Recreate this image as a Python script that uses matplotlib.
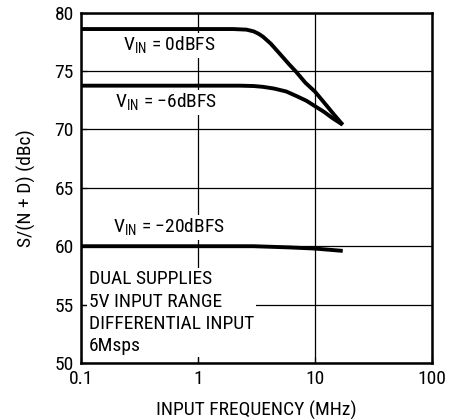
import matplotlib
matplotlib.use("Agg")
import matplotlib.pyplot as plt
from matplotlib import font_manager
from matplotlib.ticker import FixedLocator, FixedFormatter, NullLocator

# pick a narrow font if one is around
names = set(f.name for f in font_manager.fontManager.ttflist)
family = "DejaVu Sans"
for cand in ["Liberation Sans Narrow", "Roboto Condensed", "Open Sans Condensed", "Liberation Sans"]:
    if cand in names:
        family = cand
        break
plt.rcParams["font.family"] = [family, "DejaVu Sans"]

# data
freq_0db = [0.1, 1.0, 2.0, 2.6, 3.0, 3.3, 3.6, 4.2, 5.0, 6.0, 6.9, 8.3, 10.0, 12.0, 14.5, 17.3]
snd_0db = [78.6, 78.6, 78.6, 78.55, 78.4, 78.2, 77.95, 77.35, 76.5, 75.6, 74.95, 74.0, 73.25, 72.3, 71.3, 70.4]

freq_6db = [0.1, 1.0, 2.3, 3.0, 3.6, 4.5, 5.7, 7.0, 8.5, 10.0, 12.0, 14.0, 17.3]
snd_6db = [73.75, 73.75, 73.75, 73.72, 73.65, 73.5, 73.25, 72.85, 72.45, 72.0, 71.5, 71.0, 70.4]

freq_20db = [0.1, 1.0, 3.0, 6.0, 10.0, 17.3]
snd_20db = [60.0, 60.0, 60.0, 59.9, 59.8, 59.6]

x_ticks = [0.1, 1, 10, 100]
x_tick_labels = ["0.1", "1", "10", "100"]
y_ticks = [50, 55, 60, 65, 70, 75, 80]

fs = 14

fig = plt.figure(figsize=(4.61, 4.19), dpi=100)
ax = fig.add_axes([0.175, 0.1337, 0.762, 0.836])

ax.set_xscale("log")
ax.set_xlim(0.1, 100)
ax.set_ylim(50, 80)

ax.grid(True, color="black", linewidth=0.9, zorder=1)
for s in ax.spines.values():
    s.set_linewidth(1.8)

for fx, fy in [(freq_0db, snd_0db), (freq_6db, snd_6db), (freq_20db, snd_20db)]:
    ax.plot(fx, fy, color="black", linewidth=2.8, solid_capstyle="butt", solid_joinstyle="round", zorder=3)

box = dict(facecolor="white", edgecolor="none", pad=1.5)
ax.text(0.23, 77.2, "V$_{\\mathregular{IN}}$ = 0dBFS", fontsize=fs, va="center", ha="left", bbox=box, zorder=4)
ax.text(0.196, 72.3, "V$_{\\mathregular{IN}}$ = \u22126dBFS", fontsize=fs, va="center", ha="left", bbox=box, zorder=4)
ax.text(0.187, 61.6, "V$_{\\mathregular{IN}}$ = \u221220dBFS", fontsize=fs, va="center", ha="left", bbox=box, zorder=4)
ax.text(0.118, 54.3, "DUAL SUPPLIES\n5V INPUT RANGE\nDIFFERENTIAL INPUT\n6Msps", fontsize=fs,
        va="center", ha="left", linespacing=1.3, bbox=box, zorder=4)

ax.xaxis.set_major_locator(FixedLocator(x_ticks))
ax.xaxis.set_major_formatter(FixedFormatter(x_tick_labels))
ax.xaxis.set_minor_locator(NullLocator())
ax.set_yticks(y_ticks)
ax.tick_params(axis="both", direction="in", length=4, width=0.9, labelsize=fs, pad=5)

ax.set_xlabel("INPUT FREQUENCY (MHz)", fontsize=fs, labelpad=9)
ax.set_ylabel("S/(N + D) (dBc)", fontsize=fs, labelpad=13)

fig.savefig("out.png", dpi=100)
